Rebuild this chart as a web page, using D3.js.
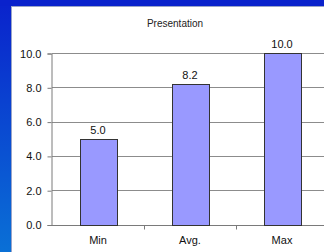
<!DOCTYPE html>
<html>
<head>
<meta charset="utf-8">
<script src="https://cdn.jsdelivr.net/npm/d3@7"></script>
<style>
  html, body { margin: 0; padding: 0; }
  body { width: 324px; height: 252px; overflow: hidden; }
  svg { display: block; font-family: Arial, "Liberation Sans", sans-serif; }
</style>
</head>
<body>
<svg id="chart" width="324" height="252"></svg>
<script>
// chart values
var categories = ["Min", "Avg.", "Max"];
var values = [5.0, 8.2, 10.0];
var yTicks = [0, 2, 4, 6, 8, 10];
var title = "Presentation";

var svg = d3.select("#chart");

// blue slide background
var defs = svg.append("defs");
var grad = defs.append("linearGradient")
    .attr("id", "bg")
    .attr("x1", 0).attr("y1", 0)
    .attr("x2", 0).attr("y2", 1);
grad.append("stop").attr("offset", "0%").attr("stop-color", "#0a22cc");
grad.append("stop").attr("offset", "100%").attr("stop-color", "#0a70d6");

svg.append("rect")
    .attr("width", 324).attr("height", 252)
    .attr("fill", "url(#bg)");
svg.append("rect")
    .attr("width", 324).attr("height", 6)
    .attr("fill", "#0a22cc");

// white panel
svg.append("rect")
    .attr("x", 11).attr("y", 6)
    .attr("width", 313).attr("height", 246)
    .attr("fill", "#ffffff");
svg.append("line")
    .attr("x1", 11.5).attr("x2", 11.5)
    .attr("y1", 6).attr("y2", 252)
    .attr("stroke", "#9aa4c8");
svg.append("line")
    .attr("x1", 11).attr("x2", 324)
    .attr("y1", 6.5).attr("y2", 6.5)
    .attr("stroke", "#9aa4c8");

var plotL = 52, plotR = 328, plotT = 53, plotB = 224.5;

var x = d3.scaleBand()
    .domain(categories)
    .range([plotL, plotR]);

var y = d3.scaleLinear()
    .domain([0, 10])
    .range([plotB, plotT]);

var g = svg.append("g");

// grid lines
g.selectAll(".grid")
    .data(yTicks.filter(d => d > 0))
    .enter().append("line")
    .attr("x1", plotL).attr("x2", plotR)
    .attr("y1", d => Math.round(y(d)) + 0.5)
    .attr("y2", d => Math.round(y(d)) + 0.5)
    .attr("stroke", "#8c8c8c")
    .attr("stroke-width", 1);

// y axis
var yAxis = d3.axisLeft(y)
    .tickValues(yTicks)
    .tickSize(4)
    .tickPadding(6)
    .tickFormat(d3.format(".1f"));

var ya = g.append("g")
    .attr("transform", "translate(" + (plotL - 0.5) + ",0.5)")
    .call(yAxis);
ya.select(".domain").attr("stroke", "#7a7a7a");
ya.selectAll(".tick line").attr("stroke", "#7a7a7a");
ya.selectAll("text")
    .attr("fill", "#111")
    .style("font-size", "11px")
    .style("font-family", "Arial, 'Liberation Sans', sans-serif");

// x axis
var xa = g.append("g")
    .attr("transform", "translate(0," + (Math.round(plotB) + 0.5) + ")");
xa.append("line")
    .attr("x1", plotL - 4).attr("x2", plotR)
    .attr("stroke", "#7a7a7a");
xa.selectAll(".sep")
    .data(categories.slice(1))
    .enter().append("line")
    .attr("x1", d => Math.round(x(d)) + 0.5)
    .attr("x2", d => Math.round(x(d)) + 0.5)
    .attr("y1", 0).attr("y2", 4)
    .attr("stroke", "#7a7a7a");
xa.selectAll(".lbl")
    .data(categories)
    .enter().append("text")
    .attr("x", d => x(d) + x.bandwidth() / 2)
    .attr("y", 18)
    .attr("text-anchor", "middle")
    .attr("fill", "#111")
    .style("font-size", "11px")
    .text(d => d);

// bars
var barW = x.bandwidth() * 0.4;
g.selectAll(".bar")
    .data(values)
    .enter().append("rect")
    .attr("x", (d, i) => Math.round(x(categories[i]) + (x.bandwidth() - barW) / 2) + 0.5)
    .attr("y", d => Math.round(y(d)) + 0.5)
    .attr("width", Math.round(barW))
    .attr("height", d => Math.round(plotB) - Math.round(y(d)))
    .attr("fill", "#9999ff")
    .attr("stroke", "#333")
    .attr("stroke-width", 1);

// value labels
g.selectAll(".val")
    .data(values)
    .enter().append("text")
    .attr("x", (d, i) => x(categories[i]) + x.bandwidth() / 2)
    .attr("y", d => y(d) - 5)
    .attr("text-anchor", "middle")
    .attr("fill", "#111")
    .style("font-size", "11px")
    .text(d => d.toFixed(1));

// title
svg.append("text")
    .attr("x", 175)
    .attr("y", 27)
    .attr("text-anchor", "middle")
    .attr("fill", "#222")
    .style("font-size", "10px")
    .text(title);
</script>
</body>
</html>
